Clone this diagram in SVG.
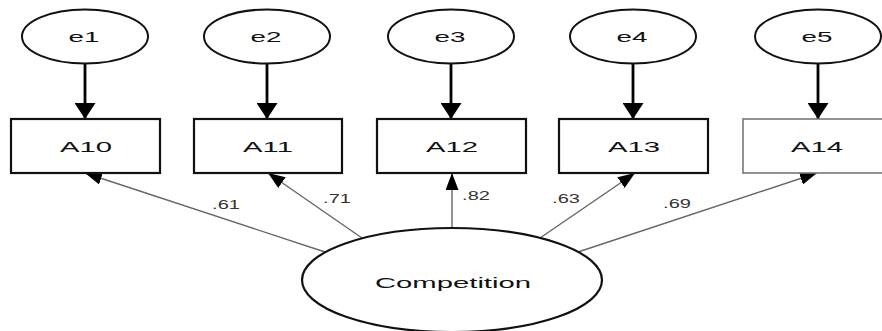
<svg xmlns="http://www.w3.org/2000/svg" width="882" height="331" viewBox="0 0 882 331">
<defs>
<style>
.bg{fill:#ffffff}
.err ellipse{fill:#ffffff;stroke:#111;stroke-width:2}
.obs rect{fill:#ffffff;stroke:#111;stroke-width:2.2}
.lat ellipse{fill:#ffffff;stroke:#111;stroke-width:2.2}
text{font-family:"Liberation Sans",Arial,sans-serif;fill:#111;text-anchor:middle}
.nt{font-size:15px}
.lb{font-size:12.5px;fill:#333}
.ea{stroke:#000;stroke-width:2.8;fill:none}
.pa{stroke:#666;stroke-width:1.4;fill:none}
</style>
<marker id="hBig" markerUnits="userSpaceOnUse" markerWidth="17" markerHeight="21" refX="16" refY="10.5" orient="auto" viewBox="0 0 17 21">
<path d="M0,0 L16,10.5 L0,21 Z" fill="#000"/>
</marker>
<marker id="hSm" markerUnits="userSpaceOnUse" markerWidth="18" markerHeight="13" refX="17" refY="6.5" orient="auto" viewBox="0 0 18 13">
<path d="M0,0 L17,6.5 L0,13 Z" fill="#000"/>
</marker>
</defs>
<rect class="bg" x="0" y="0" width="882" height="331"/>

<g id="connectors">
<line class="ea" x1="85" y1="63" x2="85" y2="119" marker-end="url(#hBig)"/>
<line class="ea" x1="267" y1="63" x2="267" y2="119" marker-end="url(#hBig)"/>
<line class="ea" x1="451" y1="63" x2="451" y2="119" marker-end="url(#hBig)"/>
<line class="ea" x1="633" y1="63" x2="633" y2="119" marker-end="url(#hBig)"/>
<line class="ea" x1="818" y1="63" x2="818" y2="119" marker-end="url(#hBig)"/>
<line class="pa" x1="325" y1="252" x2="85" y2="173" marker-end="url(#hSm)"/>
<line class="pa" x1="362" y1="238" x2="268" y2="173" marker-end="url(#hSm)"/>
<line class="pa" x1="452" y1="228" x2="452" y2="173" marker-end="url(#hSm)"/>
<line class="pa" x1="540" y1="238" x2="635" y2="173" marker-end="url(#hSm)"/>
<line class="pa" x1="578" y1="252" x2="817" y2="173" marker-end="url(#hSm)"/>
<text class="lb" transform="translate(226,209) scale(1.6,1)">.61</text>
<text class="lb" transform="translate(337,203) scale(1.6,1)">.71</text>
<text class="lb" transform="translate(476,200) scale(1.6,1)">.82</text>
<text class="lb" transform="translate(566,203) scale(1.6,1)">.63</text>
<text class="lb" transform="translate(677,208) scale(1.6,1)">.69</text>
</g>

<g id="e1" class="err"><ellipse cx="85" cy="36.5" rx="63" ry="27"/><text class="nt" transform="translate(84,42) scale(1.85,1)">e1</text></g>
<g id="e2" class="err"><ellipse cx="267" cy="36.5" rx="63" ry="27"/><text class="nt" transform="translate(266,42) scale(1.85,1)">e2</text></g>
<g id="e3" class="err"><ellipse cx="451" cy="36.5" rx="63" ry="27"/><text class="nt" transform="translate(450,42) scale(1.85,1)">e3</text></g>
<g id="e4" class="err"><ellipse cx="633" cy="36.5" rx="63" ry="27"/><text class="nt" transform="translate(632,42) scale(1.85,1)">e4</text></g>
<g id="e5" class="err"><ellipse cx="818" cy="36.5" rx="63" ry="27"/><text class="nt" transform="translate(817,42) scale(1.85,1)">e5</text></g>

<g id="A10" class="obs"><rect x="11" y="119" width="149" height="54"/><text class="nt" transform="translate(86,152) scale(1.95,1)">A10</text></g>
<g id="A11" class="obs"><rect x="194" y="119" width="148" height="54"/><text class="nt" transform="translate(268,152) scale(1.95,1)">A11</text></g>
<g id="A12" class="obs"><rect x="377" y="119" width="149" height="54"/><text class="nt" transform="translate(452,152) scale(1.95,1)">A12</text></g>
<g id="A13" class="obs"><rect x="559" y="119" width="149" height="54"/><text class="nt" transform="translate(634,152) scale(1.95,1)">A13</text></g>
<g id="A14" class="obs"><rect x="743" y="119" width="149" height="54" style="stroke:#777;stroke-width:1.6"/><text class="nt" transform="translate(817,152) scale(1.95,1)">A14</text></g>

<g id="Competition" class="lat"><ellipse cx="452" cy="280" rx="150" ry="52"/><text class="nt" transform="translate(453,288) scale(1.95,1)">Competition</text></g>
</svg>
